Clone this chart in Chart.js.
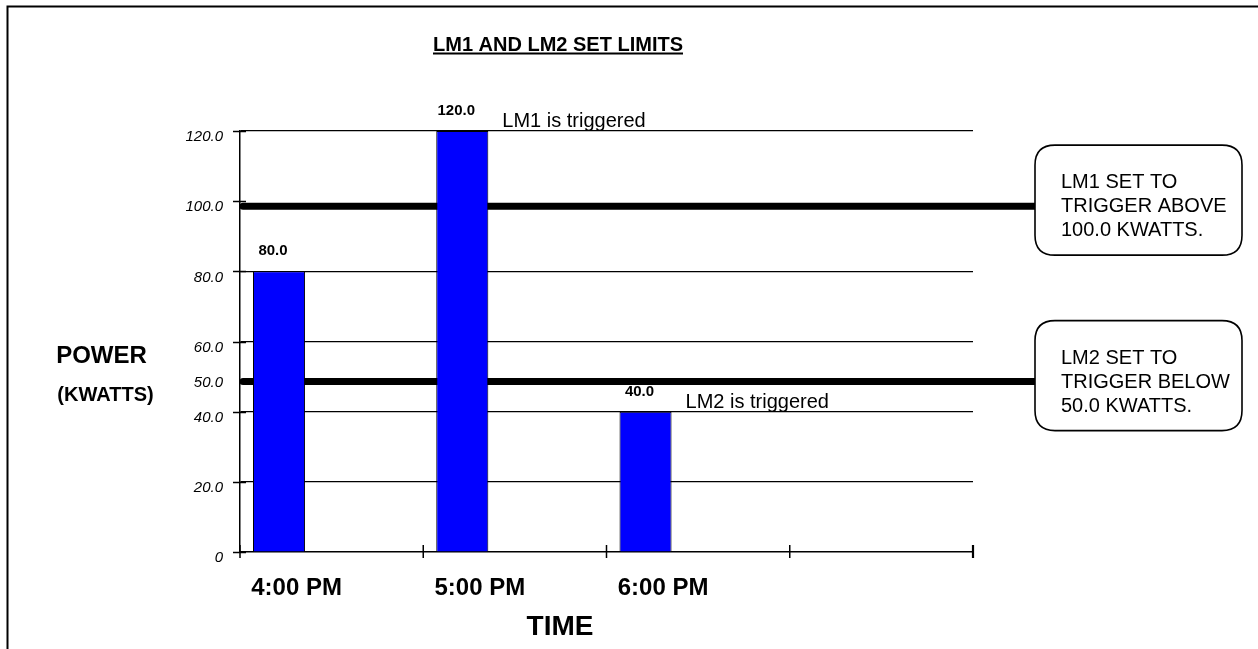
<!DOCTYPE html>
<html><head><meta charset="utf-8">
<script src="https://cdn.jsdelivr.net/npm/chart.js@4.4.1/dist/chart.umd.min.js"></script>
<style>html,body{margin:0;padding:0;background:#fff}#wrap{width:1258px;height:649px}</style>
</head><body><div id="wrap"><canvas id="c" width="1258" height="649"></canvas></div>
<script>
const categories = ['4:00 PM', '5:00 PM', '6:00 PM', ''];
const powerValues = [80, 120, 40, null];
const yTicks = [0, 20, 40, 50, 60, 80, 100, 120];
const yTickLabels = ['0', '20.0', '40.0', '50.0', '60.0', '80.0', '100.0', '120.0'];
const gridValues = [20, 40, 60, 80, 120];
const limitValues = [100, 50];
const limitBoxText = [['LM1 SET TO', 'TRIGGER ABOVE', '100.0 KWATTS.'], ['LM2 SET TO', 'TRIGGER BELOW', '50.0 KWATTS.']];
const barNotes = ['', 'LM1 is triggered', 'LM2 is triggered', ''];
const chartTitle = 'LM1 AND LM2 SET LIMITS';
const yTitle = ['POWER', '(KWATTS)'];
const xTitle = 'TIME';

const FONT = "'Liberation Sans', Arial, sans-serif";
Chart.defaults.font.family = FONT;

const decor = {
  id: 'decor',
  beforeDraw(chart) {
    const c = chart.ctx;
    c.save(); c.fillStyle = '#fff'; c.fillRect(0, 0, chart.width, chart.height); c.restore();
  },
  beforeDatasetsDraw(chart) {
    const c = chart.ctx, y = chart.scales.y, a = chart.chartArea;
    c.save();
    c.strokeStyle = '#000'; c.lineWidth = 7; c.lineCap = 'round';
    limitValues.forEach(v => {
      const py = y.getPixelForValue(v) + 5;
      c.beginPath(); c.moveTo(a.left + 3, py); c.lineTo(1040, py); c.stroke();
    });
    c.restore();
  },
  afterDraw(chart) {
    const c = chart.ctx, x = chart.scales.x, y = chart.scales.y, a = chart.chartArea;
    c.save();
    c.strokeStyle = '#000'; c.lineWidth = 1.5; c.lineCap = 'butt';
    yTicks.forEach(v => {
      if (v === 50) return;
      const py = Math.round(y.getPixelForValue(v)) + 0.5;
      c.beginPath(); c.moveTo(a.left - 7, py); c.lineTo(a.left + 6, py); c.stroke();
    });
    const n = categories.length;
    for (let i = 0; i <= n; i++) {
      const px = a.left + i * (a.right - a.left) / n;
      c.lineWidth = (i === n) ? 2.2 : 1.5;
      c.beginPath(); c.moveTo(px, a.bottom - 7); c.lineTo(px, a.bottom + 6); c.stroke();
    }
    const meta = chart.getDatasetMeta(0);
    meta.data.forEach((bar, i) => {
      const v = powerValues[i];
      if (v == null) return;
      c.fillStyle = '#000';
      c.font = 'bold 15px ' + FONT; c.textAlign = 'center'; c.textBaseline = 'middle';
      c.fillText(v.toFixed(1), bar.x - 6, bar.y - 20);
      if (barNotes[i]) {
        c.font = '20px ' + FONT; c.textAlign = 'left'; c.textBaseline = 'alphabetic';
        c.fillText(barNotes[i], bar.x + bar.width / 2 + 14, bar.y - 4);
      }
    });
    limitValues.forEach((v, k) => {
      const py = y.getPixelForValue(v) + 5;
      const bx = 1035, bw = 207, bh = 110, by = py - 61, r = 20;
      c.beginPath();
      c.moveTo(bx + r, by); c.lineTo(bx + bw - r, by); c.quadraticCurveTo(bx + bw, by, bx + bw, by + r);
      c.lineTo(bx + bw, by + bh - r); c.quadraticCurveTo(bx + bw, by + bh, bx + bw - r, by + bh);
      c.lineTo(bx + r, by + bh); c.quadraticCurveTo(bx, by + bh, bx, by + bh - r);
      c.lineTo(bx, by + r); c.quadraticCurveTo(bx, by, bx + r, by); c.closePath();
      c.fillStyle = '#fff'; c.fill(); c.lineWidth = 1.6; c.strokeStyle = '#000'; c.stroke();
      c.fillStyle = '#000'; c.font = '20px ' + FONT; c.textAlign = 'left'; c.textBaseline = 'middle';
      limitBoxText[k].forEach((t, j) => c.fillText(t, bx + 26, py - 23.5 + j * 24));
    });
    c.fillStyle = '#000'; c.font = 'bold 20px ' + FONT; c.textAlign = 'center'; c.textBaseline = 'alphabetic';
    c.fillText(chartTitle, 558, 50.5);
    const tw = c.measureText(chartTitle).width;
    c.fillRect(558 - tw / 2, 52.5, tw, 2);
    c.font = 'bold 24px ' + FONT; c.fillText(yTitle[0], 101.5, 363);
    c.font = 'bold 20px ' + FONT; c.fillText(yTitle[1], 105.5, 401);
    c.font = 'bold 28px ' + FONT; c.fillText(xTitle, 560, 635);
    c.strokeStyle = '#000'; c.lineWidth = 2;
    c.beginPath(); c.moveTo(7.5, 649); c.lineTo(7.5, 6.5); c.lineTo(1258, 6.5); c.stroke();
    c.restore();
  }
};

new Chart(document.getElementById('c'), {
  type: 'bar',
  data: {
    labels: categories,
    datasets: [
      { data: powerValues, backgroundColor: '#0000FF', borderColor: '#000', borderWidth: 1 },
      { data: categories.map(() => null) },
      { data: categories.map(() => null) }
    ]
  },
  options: {
    responsive: false, animation: false, devicePixelRatio: 1,
    datasets: { bar: { categoryPercentage: 0.861, barPercentage: 0.99 } },
    layout: { padding: { left: 0, right: 285, top: 131, bottom: 0 } },
    plugins: { legend: { display: false }, tooltip: { enabled: false }, title: { display: false } },
    scales: {
      x: {
        type: 'category', offset: true,
        grid: { display: false },
        border: { display: true, color: '#000', width: 1.5 },
        ticks: { color: '#000', font: { size: 24, weight: 'bold' }, labelOffset: -35, padding: 14, maxRotation: 0, autoSkip: false },
        afterFit(s) { s.height = 97; }
      },
      y: {
        min: 0, max: 120,
        afterBuildTicks(s) { s.ticks = yTicks.map(v => ({ value: v })); },
        grid: {
          drawTicks: false,
          color: ctx => (ctx.tick && gridValues.includes(ctx.tick.value)) ? '#000' : 'rgba(0,0,0,0)',
          lineWidth: 1.2
        },
        border: { display: true, color: '#000', width: 1.5 },
        ticks: {
          color: '#000', font: { size: 15, style: 'italic' }, padding: 17, labelOffset: 6,
          callback: (v) => yTickLabels[yTicks.indexOf(v)]
        },
        afterFit(s) { s.width = 240; }
      }
    }
  },
  plugins: [decor]
});
</script>
</body></html>
